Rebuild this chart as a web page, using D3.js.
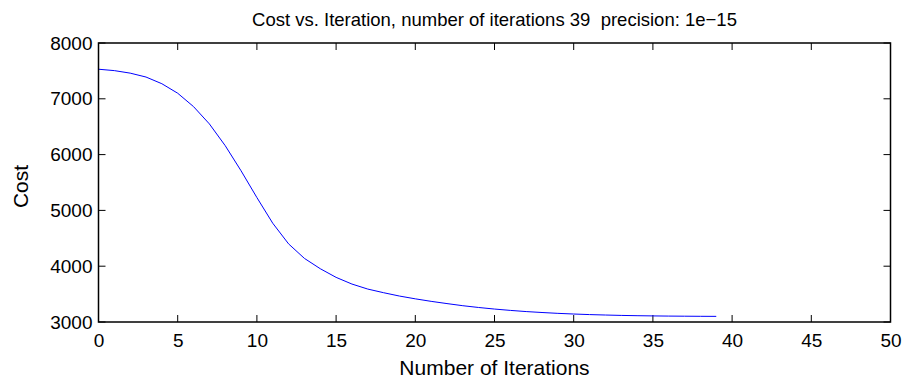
<!DOCTYPE html>
<html>
<head>
<meta charset="utf-8">
<script src="https://cdn.jsdelivr.net/npm/d3@7/dist/d3.min.js"></script>
<style>
  html, body { margin: 0; padding: 0; background: #fff; }
  svg { display: block; }
  text { font-family: "Liberation Sans", Arial, Helvetica, sans-serif; fill: #000; white-space: pre; }
</style>
</head>
<body>
<svg id="chart" width="904" height="378"></svg>
<script>
// Cost recorded at each gradient-descent iteration
const iterations = d3.range(0, 40);
const costValues = [
  7530, 7505, 7460, 7390, 7270, 7100, 6860, 6550, 6160, 5710,
  5230, 4770, 4400, 4140, 3955, 3800, 3680, 3590, 3525, 3465,
  3415, 3370, 3330, 3292, 3260, 3232, 3208, 3187, 3170, 3155,
  3143, 3133, 3125, 3118, 3113, 3109, 3106, 3104, 3102, 3101
];
const xTicks = [0, 5, 10, 15, 20, 25, 30, 35, 40, 45, 50];
const yTicks = [3000, 4000, 5000, 6000, 7000, 8000];
const titleText = "Cost vs. Iteration, number of iterations 39  precision: 1e\u221215";
const xLabel = "Number of Iterations";
const yLabel = "Cost";

const svg = d3.select("#chart");
const W = 904, H = 378;
const margin = { left: 98.5, right: W - 890.5, top: 43, bottom: H - 322 };

const x = d3.scaleLinear().domain([0, 50]).range([margin.left, W - margin.right]);
const y = d3.scaleLinear().domain([3000, 8000]).range([H - margin.bottom, margin.top]);

const tickLen = 7;
const tickFont = 19;
const labelFont = 21;

// Inward ticks on all four sides (box style axes)
const gTicks = svg.append("g").attr("stroke", "#000").attr("stroke-width", 1);
xTicks.forEach(t => {
  gTicks.append("line").attr("x1", x(t)).attr("x2", x(t)).attr("y1", y(3000)).attr("y2", y(3000) - tickLen);
  gTicks.append("line").attr("x1", x(t)).attr("x2", x(t)).attr("y1", y(8000)).attr("y2", y(8000) + tickLen);
});
yTicks.forEach(t => {
  gTicks.append("line").attr("x1", x(0)).attr("x2", x(0) + tickLen).attr("y1", y(t)).attr("y2", y(t));
  gTicks.append("line").attr("x1", x(50)).attr("x2", x(50) - tickLen).attr("y1", y(t)).attr("y2", y(t));
});

// Tick labels through D3 axis generators (tick marks drawn above)
const xAxis = d3.axisBottom(x).tickValues(xTicks).tickSize(0).tickPadding(12).tickFormat(d3.format("d"));
const yAxis = d3.axisLeft(y).tickValues(yTicks).tickSize(0).tickPadding(6).tickFormat(d3.format("d"));

const gx = svg.append("g").attr("transform", `translate(0,${y(3000)})`).call(xAxis);
const gy = svg.append("g").attr("transform", `translate(${x(0)},0)`).call(yAxis);
[gx, gy].forEach(g => {
  g.select(".domain").remove();
  g.selectAll("text")
    .attr("font-size", tickFont)
    .attr("font-family", "Liberation Sans, Arial, sans-serif")
    .attr("fill", "#000");
});

// Data line
const line = d3.line().x((d, i) => x(iterations[i])).y(d => y(d));
svg.append("path")
  .datum(costValues)
  .attr("fill", "none")
  .attr("stroke", "#0000ff")
  .attr("stroke-width", 1)
  .attr("d", line);

// Axes box
svg.append("rect")
  .attr("x", x(0)).attr("y", y(8000))
  .attr("width", x(50) - x(0)).attr("height", y(3000) - y(8000))
  .attr("fill", "none").attr("stroke", "#000").attr("stroke-width", 1.5);

// Title and axis labels
svg.append("text")
  .attr("x", (x(0) + x(50)) / 2).attr("y", 26)
  .attr("text-anchor", "middle").attr("font-size", 18.5)
  .text(titleText);

svg.append("text")
  .attr("x", (x(0) + x(50)) / 2).attr("y", 375)
  .attr("text-anchor", "middle").attr("font-size", labelFont)
  .text(xLabel);

svg.append("text")
  .attr("transform", `translate(28,${(y(3000) + y(8000)) / 2 + 4}) rotate(-90)`)
  .attr("text-anchor", "middle").attr("font-size", labelFont)
  .text(yLabel);
</script>
</body>
</html>
